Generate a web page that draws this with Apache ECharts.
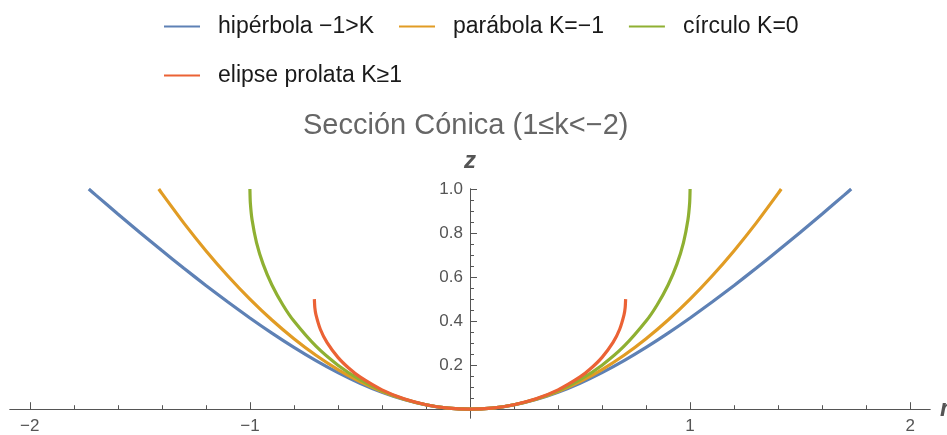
<!DOCTYPE html>
<html>
<head>
<meta charset="utf-8">
<script src="https://cdn.jsdelivr.net/npm/echarts@6/dist/echarts.min.js"></script>
<style>html,body{margin:0;padding:0;background:#fff}#c{width:947px;height:435px}</style>
</head>
<body>
<div id="c"></div>
<script>
// Series names
const seriesNames = ['hipérbola −1>K', 'parábola K=−1', 'círculo K=0', 'elipse prolata K≥1'];
const seriesColors = ['#5E81B5', '#E19C24', '#8FB032', '#EB6235'];

// hipérbola
const hypR = [-1.732,-1.7,-1.6,-1.5,-1.4,-1.3,-1.2,-1.1,-1.0,-0.9,-0.8,-0.7,-0.6,-0.5,-0.4,-0.3,-0.2,-0.1,0,0.1,0.2,0.3,0.4,0.5,0.6,0.7,0.8,0.9,1.0,1.1,1.2,1.3,1.4,1.5,1.6,1.7,1.732];
const hypZ = [1.0,0.9723,0.8868,0.8028,0.7205,0.6401,0.5620,0.4866,0.4142,0.3454,0.2806,0.2207,0.1662,0.1180,0.0770,0.0440,0.0198,0.0050,0,0.0050,0.0198,0.0440,0.0770,0.1180,0.1662,0.2207,0.2806,0.3454,0.4142,0.4866,0.5620,0.6401,0.7205,0.8028,0.8868,0.9723,1.0];

// parábola
const parR = [-1.414,-1.4,-1.3,-1.2,-1.1,-1.0,-0.9,-0.8,-0.7,-0.6,-0.5,-0.4,-0.3,-0.2,-0.1,0,0.1,0.2,0.3,0.4,0.5,0.6,0.7,0.8,0.9,1.0,1.1,1.2,1.3,1.4,1.414];
const parZ = [1.0,0.98,0.845,0.72,0.605,0.5,0.405,0.32,0.245,0.18,0.125,0.08,0.045,0.02,0.005,0,0.005,0.02,0.045,0.08,0.125,0.18,0.245,0.32,0.405,0.5,0.605,0.72,0.845,0.98,1.0];

// círculo
const cirR = [-1.0,-0.998,-0.99,-0.97,-0.94,-0.9,-0.85,-0.8,-0.7,-0.6,-0.5,-0.4,-0.3,-0.2,-0.1,0,0.1,0.2,0.3,0.4,0.5,0.6,0.7,0.8,0.85,0.9,0.94,0.97,0.99,0.998,1.0];
const cirZ = [1.0,0.9368,0.8589,0.7569,0.6588,0.5641,0.4732,0.4,0.2859,0.2,0.1340,0.0835,0.0461,0.0202,0.0050,0,0.0050,0.0202,0.0461,0.0835,0.1340,0.2,0.2859,0.4,0.4732,0.5641,0.6588,0.7569,0.8589,0.9368,1.0];

// elipse prolata
const eliR = [-0.7071,-0.705,-0.70,-0.68,-0.65,-0.6,-0.55,-0.5,-0.4,-0.3,-0.2,-0.1,0,0.1,0.2,0.3,0.4,0.5,0.55,0.6,0.65,0.68,0.70,0.705,0.7071];
const eliZ = [0.5,0.4614,0.4293,0.3629,0.3032,0.2354,0.1858,0.1464,0.0877,0.0472,0.0204,0.0050,0,0.0050,0.0204,0.0472,0.0877,0.1464,0.1858,0.2354,0.3032,0.3629,0.4293,0.4614,0.5];

// Tick values
const xMajorTicks = [-2,-1,1,2];
const xMinorTicks = [-1.8,-1.6,-1.4,-1.2,-0.8,-0.6,-0.4,-0.2,0.2,0.4,0.6,0.8,1.2,1.4,1.6,1.8];
const yMajorTicks = [0.2,0.4,0.6,0.8,1.0];
const yMinorTicks = [0.05,0.1,0.15,0.25,0.3,0.35,0.45,0.5,0.55,0.65,0.7,0.75,0.85,0.9,0.95];

const titleText = 'Sección Cónica (1≤k<−2)';
const FONT = '"Liberation Sans", Arial, sans-serif';

// axis ranges
const X_MIN = -2.09, X_MAX = 2.09, Y_MIN = -0.04, Y_MAX = 1.0;
const GRID = {left: 10, right: 17, top: 189, bottom: 17};
const W = 947, H = 435;
const gridW = W - GRID.left - GRID.right;
const gridH = H - GRID.top - GRID.bottom;
// shift axes so they cross at the origin
const yAxisOffset = -((0 - X_MIN) / (X_MAX - X_MIN)) * gridW;
const xAxisOffset = -((0 - Y_MIN) / (Y_MAX - Y_MIN)) * gridH;

function zip(a, b) { return a.map((v, i) => [v, b[i]]); }
const rs = [hypR, parR, cirR, eliR];
const zs = [hypZ, parZ, cirZ, eliZ];

const chart = echarts.init(document.getElementById('c'), null, {renderer: 'canvas'});
const AX = '#555';
const xBase = {
  type: 'value', min: X_MIN, max: X_MAX, position: 'bottom', offset: xAxisOffset,
  axisLine: {onZero: false, lineStyle: {color: AX, width: 1}},
  splitLine: {show: false}
};
const yBase = {
  type: 'value', min: Y_MIN, max: Y_MAX, position: 'left', offset: yAxisOffset,
  axisLine: {onZero: false, lineStyle: {color: AX, width: 1}},
  splitLine: {show: false}
};
const fmtMinus = v => (v < 0 ? '−' + Math.abs(v) : String(v));
const legendText = {fontFamily: FONT, fontSize: 23, color: '#1a1a1a', padding: [0, 0, 0, 13]};

chart.setOption({
  animation: false,
  backgroundColor: '#fff',
  title: {
    text: titleText, left: 298, top: 106,
    textStyle: {fontFamily: FONT, fontSize: 29, fontWeight: 'normal', color: '#666'}
  },
  legend: [
    {
      data: seriesNames.slice(0, 3), left: 159, top: 10, icon: 'rect',
      itemWidth: 36, itemHeight: 2, itemGap: 25, textStyle: legendText
    },
    {
      data: seriesNames.slice(3), left: 159, top: 59, icon: 'rect',
      itemWidth: 36, itemHeight: 2, itemGap: 25, textStyle: legendText
    }
  ],
  grid: Object.assign({outerBoundsMode: 'none', containLabel: false}, GRID),
  xAxis: [
    Object.assign({}, xBase, {
      name: 'r', nameLocation: 'end', nameGap: 10,
      nameTextStyle: {fontFamily: FONT, fontSize: 24, fontStyle: 'italic', fontWeight: 'bold', color: AX, verticalAlign: 'middle'},
      axisTick: {show: true, inside: true, length: 7, customValues: xMajorTicks, lineStyle: {color: AX}},
      axisLabel: {show: true, customValues: xMajorTicks, margin: 9, formatter: fmtMinus,
        fontFamily: FONT, fontSize: 17, color: AX}
    }),
    Object.assign({}, xBase, {
      axisTick: {show: true, inside: true, length: 4, customValues: xMinorTicks, lineStyle: {color: AX}},
      axisLabel: {show: false}
    })
  ],
  yAxis: [
    Object.assign({}, yBase, {
      name: 'z', nameLocation: 'end', nameGap: 16,
      nameTextStyle: {fontFamily: FONT, fontSize: 24, fontStyle: 'italic', fontWeight: 'bold', color: AX, align: 'center'},
      axisTick: {show: true, inside: true, length: 7, customValues: yMajorTicks, lineStyle: {color: AX}},
      axisLabel: {show: true, customValues: yMajorTicks, margin: 7, formatter: v => v.toFixed(1),
        fontFamily: FONT, fontSize: 17, color: AX}
    }),
    Object.assign({}, yBase, {
      axisTick: {show: true, inside: true, length: 4, customValues: yMinorTicks, lineStyle: {color: AX}},
      axisLabel: {show: false}
    })
  ],
  series: seriesNames.map((name, i) => ({
    name: name, type: 'line', xAxisIndex: 0, yAxisIndex: 0,
    data: zip(rs[i], zs[i]), symbol: 'none', smooth: 0.2,
    color: seriesColors[i],
    lineStyle: {width: 3.2, color: seriesColors[i]}
  }))
});
</script>
</body>
</html>
